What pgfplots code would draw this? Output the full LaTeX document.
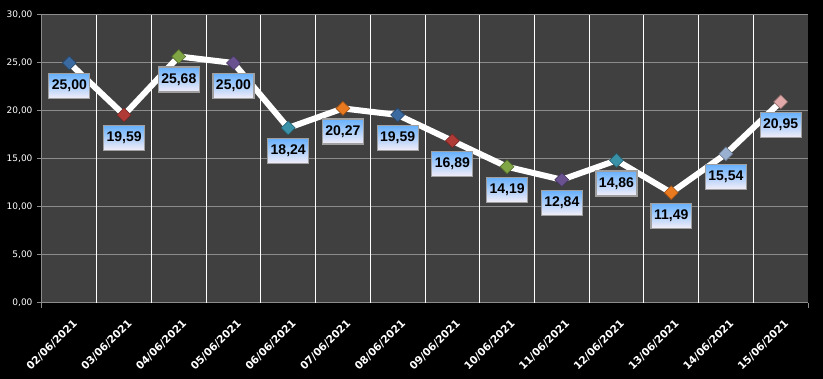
\documentclass[border=0pt]{standalone}
\usepackage{pgfplots}
\pgfplotsset{compat=1.18}
\usepackage{fontspec}
\setmainfont{DejaVu Sans}
\newfontfamily\lab{Liberation Sans}
\definecolor{plotbg}{HTML}{404040}
\definecolor{gridgray}{HTML}{8C8C8C}
\definecolor{mA}{HTML}{3A6AA0}
\definecolor{mB}{HTML}{B03A36}
\definecolor{mC}{HTML}{7FA544}
\definecolor{mD}{HTML}{6A5290}
\definecolor{mE}{HTML}{3A92A8}
\definecolor{mF}{HTML}{EA7A20}
\definecolor{mG}{HTML}{9AB0D0}
\definecolor{mH}{HTML}{E0A8A8}
\definecolor{boxtop}{HTML}{66B0FC}
\definecolor{boxbot}{HTML}{F4EEF8}
\pgfkeys{/pgf/number format/assume math mode=true}
\pgfplotsset{mk/.style={only marks, mark=square*, mark size=4.9pt, draw=#1!65!black, fill=#1, mark options={rotate=45, line width=0.6pt}}}
\begin{document}
\begin{tikzpicture}[x=1pt,y=1pt]
\fill[black] (0,0) rectangle (823,379);
\useasboundingbox (0,0) rectangle (823,379);
\begin{axis}[
  at={(42pt,76pt)}, anchor=south west,
  scale only axis, width=766pt, height=288pt,
  xmin=-0.5, xmax=13.5, ymin=0, ymax=30,
  axis background/.style={fill=plotbg},
  axis x line*=bottom, axis y line*=left,
  axis line style={gridgray, line width=1pt, -},
  xtick={0,...,13},
  xticklabels={02/06/2021,03/06/2021,04/06/2021,05/06/2021,06/06/2021,07/06/2021,08/06/2021,09/06/2021,10/06/2021,11/06/2021,12/06/2021,13/06/2021,14/06/2021,15/06/2021},
  xticklabel style={rotate=45, anchor=north east, font=\fontsize{10.5}{12}\selectfont\bfseries, text=white, xshift=-2pt, yshift=-6pt},
  major x tick style={draw=none},
  extra x ticks={0.5,1.5,...,12.5},
  extra x tick labels={},
  extra x tick style={xmajorgrids=true, major grid style={white, line width=1pt}, major tick length=5pt, tick style={draw=gridgray, line width=1pt}},
  minor xtick={-0.5,13.5},
  minor tick length=5pt,
  minor x tick style={draw=gridgray, line width=1pt},
  tick align=outside,
  ytick={0,5,...,30},
  ymajorgrids=true,
  major grid style={gridgray, line width=1pt},
  y tick style={draw=gridgray, line width=1pt},
  major tick length=5pt,
  yticklabel style={font=\fontsize{9}{10}\selectfont, text=white, xshift=-1pt},
  yticklabel={\pgfmathprintnumber[fixed,fixed zerofill,precision=2,use comma]{\tick}},
  clip=false,
]
\addplot[white, line width=6pt, line join=round, mark=none] coordinates {
(0,25.00) (1,19.59) (2,25.68) (3,25.00) (4,18.24) (5,20.27) (6,19.59)
(7,16.89) (8,14.19) (9,12.84) (10,14.86) (11,11.49) (12,15.54) (13,20.95)};
\addplot[mk=mA] coordinates {(0,25.00) (6,19.59)};
\addplot[mk=mB] coordinates {(1,19.59) (7,16.89)};
\addplot[mk=mC] coordinates {(2,25.68) (8,14.19)};
\addplot[mk=mD] coordinates {(3,25.00) (9,12.84)};
\addplot[mk=mE] coordinates {(4,18.24) (10,14.86)};
\addplot[mk=mF] coordinates {(5,20.27) (11,11.49)};
\addplot[mk=mG] coordinates {(12,15.54)};
\addplot[mk=mH] coordinates {(13,20.95)};
\addplot[
  only marks, mark=none,
  point meta=y,
  nodes near coords={\pgfmathprintnumber[fixed,fixed zerofill,precision=2,use comma]{\pgfplotspointmeta}},
  every node near coord/.append style={anchor=north, yshift=-10pt,
    font=\lab\fontsize{14}{16}\selectfont\bfseries, text=black,
    top color=boxtop, bottom color=boxbot, draw=gray!75, line width=1.2pt,
    inner xsep=3pt, inner ysep=4pt, minimum height=25pt},
] coordinates {
(0,25.00) (1,19.59) (2,25.68) (3,25.00) (4,18.24) (5,20.27) (6,19.59)
(7,16.89) (8,14.19) (9,12.84) (10,14.86) (11,11.49) (12,15.54) (13,20.95)};
\end{axis}
\end{tikzpicture}
\end{document}
